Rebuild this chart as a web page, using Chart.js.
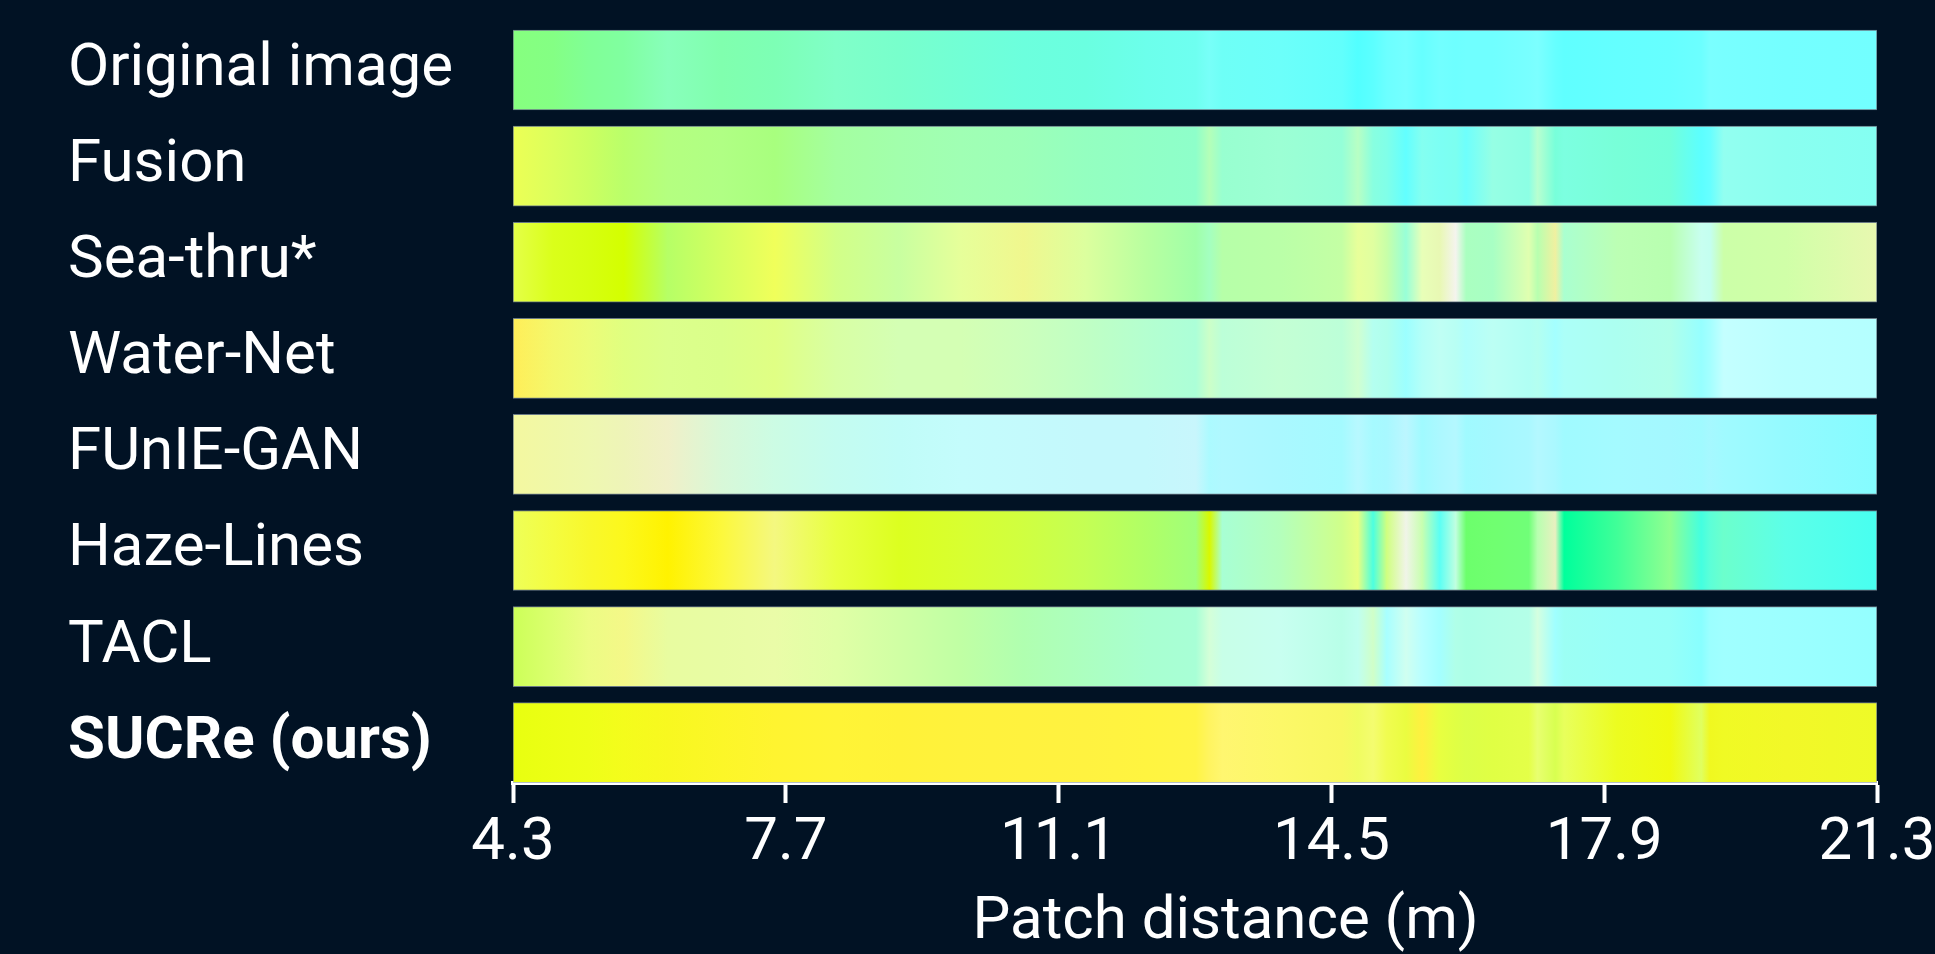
<!DOCTYPE html>
<html>
<head>
<meta charset="utf-8">
<script src="https://cdn.jsdelivr.net/npm/chart.js@4.4.1/dist/chart.umd.min.js"></script>
<style>
    html, body { margin: 0; padding: 0; background: #011224; }
    .chart-container { width: 1935px; height: 954px; }
</style>
</head>
<body>
<div class="chart-container">
    <canvas id="distanceChart"></canvas>
</div>

<script>
    // rows, top to bottom
    const methods = ['Original image', 'Fusion', 'Sea-thru*', 'Water-Net', 'FUnIE-GAN', 'Haze-Lines', 'TACL', 'SUCRe (ours)'];
    const distanceTicks = [4.3, 7.7, 11.1, 14.5, 17.9, 21.3];

    // patch distances (m) where the colour of each strip was sampled
    const stopDistances = [4.30, 4.80, 5.24, 5.68, 6.23, 6.90, 7.56, 8.33, 9.11, 9.88,
        10.66, 11.43, 12.20, 12.81, 12.98, 13.14, 13.86, 14.63, 14.83, 15.02,
        15.19, 15.43, 15.63, 15.85, 16.05, 16.18, 16.51, 16.96, 17.07, 17.29,
        17.40, 18.06, 18.72, 19.11, 19.22, 19.39, 20.16, 21.30];

    const originalColors = ['#86ff7f', '#84ff84', '#80ff96', '#80ffa0', '#88ffbb', '#80ffae', '#7dffb5', '#80ffc8', '#78ffcc', '#72ffd5',
        '#6cffdd', '#6affe0', '#6cffeb', '#6efff0', '#78fff8', '#6efff6', '#6cfffa', '#62fffc', '#52ffff', '#5cffff',
        '#6cffff', '#74ffff', '#66ffff', '#72ffff', '#6effff', '#70ffff', '#70ffff', '#78ffff', '#7cffff', '#66ffff',
        '#60ffff', '#64ffff', '#66ffff', '#6cffff', '#7affff', '#78ffff', '#74ffff', '#72ffff'];
    const fusionColors = ['#ecff55', '#dcff5c', '#ccff60', '#baff6a', '#b4ff80', '#b0ff84', '#a8ff7e', '#a4ffa0', '#a2ffac', '#a0ffb4',
        '#9cffb8', '#94ffc0', '#90ffc6', '#8effca', '#b4ffb8', '#98ffd0', '#9cffd4', '#94ffd8', '#b8ffc4', '#88ffe0',
        '#80ffe8', '#62ffff', '#84fff0', '#7cfff4', '#7cfff0', '#6efffc', '#96ffe4', '#8cffe4', '#b8ffd0', '#78ffda',
        '#7cffe0', '#78ffd8', '#72ffda', '#5cffff', '#66ffff', '#92fff0', '#8afff0', '#84fff2'];
    const seaThruColors = ['#e4ff48', '#daff1a', '#d6ff10', '#d4ff00', '#b6ff66', '#d4ff60', '#f0ff5a', '#d2ff88', '#c8ffa0', '#e6ff9a',
        '#f0f78e', '#dcff9e', '#b8ffa0', '#a0ffa8', '#a4ffc0', '#b6ffa8', '#baffa8', '#c4ffa4', '#e8ff9a', '#e0ffa0',
        '#c8ffa8', '#98ffd8', '#e8ffb8', '#e8f8b4', '#f4f4ee', '#aaffc0', '#a8ffc4', '#e0ffb0', '#b8ffb0', '#f0f0a0',
        '#aaffd0', '#bcffb4', '#b8ffb0', '#c8fff0', '#c4fff0', '#ccffa8', '#d0ffa8', '#e8f8b0'];
    const waterNetColors = ['#ffee58', '#f4f86c', '#ecfc78', '#e0ff80', '#dcff8c', '#daff8a', '#e0ff84', '#d8ffa4', '#d4ffb4', '#d4ffb4',
        '#ccffbc', '#c0ffc4', '#b4ffd0', '#acffd8', '#ccffc8', '#bcffd8', '#c4ffd4', '#bcffd8', '#d0ffd0', '#b4fff0',
        '#b0ffec', '#9cffff', '#b4fff8', '#c0fff4', '#b8fff4', '#b0fffc', '#bcfff4', '#b0fff4', '#b4fff0', '#a4ffff',
        '#acfff8', '#acfff0', '#b0ffea', '#96ffff', '#a4ffff', '#c4ffff', '#baffff', '#b4ffff'];
    const funieColors = ['#f4f8a0', '#f0f8a8', '#eef8b0', '#eef4b8', '#f0f0c8', '#d8f8d8', '#ccfce4', '#c4fcf0', '#c0fcf8', '#c4fcfc',
        '#c4fafc', '#c4f8fc', '#c4f8fc', '#c8f6fc', '#acfaff', '#b0f8ff', '#aaf8ff', '#a4faff', '#b8f8ff', '#a6faff',
        '#a8f8ff', '#bcf6ff', '#a0faff', '#acf8ff', '#b4f8ff', '#a0faff', '#a4f8ff', '#aaf8ff', '#b4f8ff', '#aaf8ff',
        '#a0faff', '#a4faff', '#a4f8ff', '#a0faff', '#a6f8ff', '#a0faff', '#94faff', '#84fcff'];
    const hazeLinesColors = ['#eeff58', '#f4fc40', '#f8f82c', '#fcf81c', '#fff200', '#fcf83c', '#f4f880', '#e8ff40', '#dcff20', '#d8ff30',
        '#d0ff40', '#c4ff54', '#b0ff66', '#a0ff7a', '#d8f800', '#a8ffd4', '#b4ffbc', '#d0ff8a', '#e8ff80', '#4cffe0',
        '#d0ff80', '#f0f4e8', '#c8ffb0', '#5cfff4', '#c0ffe0', '#6cff6c', '#70ff70', '#70ff78', '#b8ffb0', '#e8f0c0',
        '#00ff9c', '#40ff98', '#90ff90', '#44ffe0', '#5cffd8', '#6cffcc', '#5cffe8', '#48fff0'];
    const taclColors = ['#ccff58', '#dcff70', '#ecfc84', '#f4f888', '#e8fca0', '#e8fca4', '#eafca8', '#e0ffa6', '#d0ffa4', '#c0ffa4',
        '#b0ffb0', '#acffc0', '#a8ffd0', '#a8ffd6', '#d4ffd8', '#c8ffe8', '#c8fff0', '#b8ffe8', '#c0fff0', '#d0ffc8',
        '#a8ffff', '#d0fff0', '#b8ffff', '#a4ffff', '#b0ffe8', '#acffe8', '#b0ffe8', '#b4ffe8', '#d4ffe0', '#a0ffff',
        '#9cfff4', '#98fff8', '#96fff8', '#88ffff', '#9cffff', '#a0ffff', '#9cffff', '#94ffff'];
    const sucreColors = ['#e8ff10', '#ecff14', '#eeff18', '#f4fc1c', '#f8f820', '#fcf628', '#fff430', '#fff436', '#fff238', '#fff23c',
        '#fff23e', '#fff240', '#fff440', '#fff444', '#fff460', '#fff670', '#fcf868', '#f8f860', '#f0fc60', '#f4fc70',
        '#f0fc50', '#eafc40', '#fff040', '#e8ff40', '#e0ff44', '#dcff48', '#e0ff44', '#e4ff48', '#e8ff70', '#d8ff50',
        '#e8ff5c', '#ecfc20', '#f0fa10', '#e0ff60', '#f0f820', '#f0fa24', '#f2f828', '#eefa28'];

    const rowColors = [originalColors, fusionColors, seaThruColors, waterNetColors, funieColors, hazeLinesColors, taclColors, sucreColors];

    Chart.defaults.font.family = 'Roboto';
    Chart.defaults.color = '#ffffff';

    // horizontal gradient for one strip, colour stops placed through the x scale
    function stripGradient(chart, colors) {
        const xScale = chart.scales.x;
        if (!chart.chartArea || !xScale) return colors[0];
        const x0 = xScale.getPixelForValue(stopDistances[0]);
        const x1 = xScale.getPixelForValue(stopDistances[stopDistances.length - 1]);
        const gradient = chart.ctx.createLinearGradient(x0, 0, x1, 0);
        stopDistances.forEach((d, i) => {
            const t = (xScale.getPixelForValue(d) - x0) / (x1 - x0);
            gradient.addColorStop(Math.min(1, Math.max(0, t)), colors[i]);
        });
        return gradient;
    }

    const ctx = document.getElementById('distanceChart').getContext('2d');
    const chart = new Chart(ctx, {
        type: 'bar',
        data: {
            datasets: [{
                data: methods.map((m, i) => ({ x: [distanceTicks[0], distanceTicks[distanceTicks.length - 1]], y: i })),
                backgroundColor: (c) => stripGradient(c.chart, rowColors[c.dataIndex]),
                borderColor: 'rgba(150, 165, 175, 0.7)',
                borderWidth: 1,
                borderSkipped: false,
                barThickness: 80
            }]
        },
        options: {
            indexAxis: 'y',
            responsive: true,
            maintainAspectRatio: false,
            animation: false,
            layout: { padding: { left: 68, right: 58, top: 22, bottom: 0 } },
            plugins: {
                legend: { display: false },
                tooltip: { enabled: false }
            },
            scales: {
                x: {
                    type: 'linear',
                    min: 4.3,
                    max: 21.3,
                    afterBuildTicks: (scale) => { scale.ticks = distanceTicks.map(v => ({ value: v })); },
                    afterFit: (scale) => {
                        scale.height = 171;
                        scale.paddingLeft = 0;
                        scale.paddingRight = 0;
                    },
                    ticks: {
                        color: '#ffffff',
                        padding: 5,
                        maxRotation: 0,
                        font: { size: 60 },
                        callback: (v) => Number(v).toFixed(1)
                    },
                    grid: {
                        drawOnChartArea: false,
                        drawTicks: true,
                        tickLength: 20,
                        tickWidth: 4,
                        color: '#ffffff'
                    },
                    border: { display: true, color: '#ffffff', width: 4 },
                    title: {
                        display: true,
                        text: '\u2003Patch distance (m)',
                        color: '#ffffff',
                        font: { size: 60 },
                        padding: { top: 0, bottom: -5 }
                    }
                },
                y: {
                    type: 'linear',
                    reverse: true,
                    offset: false,
                    bounds: 'data',
                    min: -0.5,
                    max: 7.42,
                    afterBuildTicks: (scale) => { scale.ticks = methods.map((m, i) => ({ value: i })); },
                    afterFit: (scale) => {
                        scale.width = 445;
                        scale.paddingTop = 0;
                        scale.paddingBottom = 0;
                    },
                    ticks: {
                        color: '#ffffff',
                        crossAlign: 'far',
                        font: (c) => ({ size: 60, weight: c.index === methods.length - 1 ? 'bold' : 'normal' }),
                        callback: (v) => methods[v]
                    },
                    grid: { display: false, offset: false },
                    border: { display: false }
                }
            }
        }
    });
</script>
</body>
</html>
